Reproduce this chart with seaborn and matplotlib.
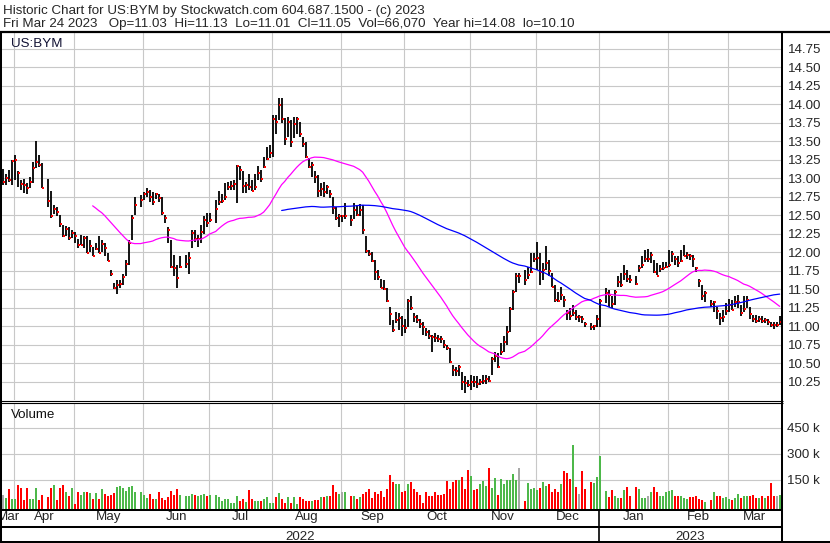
import numpy as np
import pandas as pd
import matplotlib
matplotlib.use("Agg")
import matplotlib.pyplot as plt
import seaborn as sns

# ---------------- data ----------------
start_date, end_date = "2022-03-28", "2023-03-24"
holidays = ["2022-04-15", "2022-05-30", "2022-06-20", "2022-07-04", "2022-09-05",
            "2022-11-24", "2022-12-26", "2023-01-02", "2023-01-16", "2023-02-20"]

close = [
    12.94, 13.00, 12.97, 13.23,
    13.24, 13.07, 12.92, 12.91, 12.86, 12.94, 13.13, 13.21, 13.17, 12.86, 12.69, 12.48, 12.58, 12.54, 12.38, 12.22, 12.31, 12.19, 12.26, 12.22,
    12.09, 12.10, 12.19, 11.99, 12.08, 11.95, 12.04, 11.99, 12.11, 12.05, 11.88, 11.70, 11.52, 11.56, 11.57, 11.66, 11.84, 12.12, 12.46, 12.63, 12.70,
    12.78, 12.81, 12.75, 12.68, 12.79, 12.73, 12.53, 12.46, 12.30, 11.80, 11.79, 11.65, 11.80, 11.84, 11.92, 12.26, 12.17, 12.18, 12.27, 12.43, 12.39,
    12.43, 12.58, 12.68, 12.69, 12.75, 12.88, 12.89, 12.92, 13.16, 13.11, 12.89, 12.90, 12.88, 12.83, 12.88, 13.07, 12.98, 13.15, 13.26, 13.34,
    13.80, 13.76, 13.99, 13.80, 13.53, 13.76, 13.49, 13.73, 13.80, 13.59, 13.46, 13.28, 13.15, 13.17, 13.02, 12.83, 12.85, 12.81, 12.88, 12.79, 12.59, 12.46, 12.48,
    12.48, 12.49, 12.43, 12.57, 12.50, 12.57, 12.30, 12.02, 11.97, 11.88, 11.73, 11.66, 11.52, 11.50, 11.34, 11.16, 10.95, 11.08, 11.11, 11.00, 10.97,
    11.34, 11.25, 11.12, 11.08, 11.03, 10.98, 10.92, 10.86, 10.85, 10.84, 10.83, 10.82, 10.74, 10.70, 10.52, 10.41, 10.39, 10.45, 10.25, 10.23, 10.20,
    10.25, 10.24, 10.22, 10.24, 10.26, 10.29, 10.26, 10.56, 10.60, 10.44, 10.65, 10.79, 10.92, 11.23, 11.46, 11.67, 11.67, 11.62, 11.69, 11.73, 11.91,
    11.92, 11.73, 11.76, 11.85, 11.75, 11.53, 11.35, 11.34, 11.42, 11.35, 11.18, 11.14, 11.18, 11.12, 11.12, 11.10, 11.03, 10.99, 11.00, 11.10, 11.34,
    11.44, 11.42, 11.30, 11.46, 11.59, 11.55, 11.70, 11.64, 11.62, 11.57, 11.78, 11.82, 11.90, 11.90, 11.96, 11.73, 11.68, 11.77, 11.78, 11.80,
    11.82, 11.97, 11.90, 11.85, 11.88, 11.95, 11.96, 11.94, 11.91, 11.78, 11.61, 11.40, 11.45, 11.30, 11.32, 11.20, 11.11, 11.12, 11.20,
    11.28, 11.22, 11.32, 11.33, 11.18, 11.23, 11.35, 11.16, 11.09, 11.07, 11.10, 11.07, 11.08, 11.05, 11.02, 11.01, 11.01, 11.05,
]

high = [
    13.12, 13.05, 13.11, 13.25,
    13.31, 13.09, 12.97, 12.99, 12.93, 13.02, 13.22, 13.50, 13.31, 13.20, 12.99, 12.82, 12.64, 12.61, 12.50, 12.36, 12.35, 12.34, 12.30, 12.27,
    12.18, 12.23, 12.22, 12.21, 12.16, 12.07, 12.12, 12.21, 12.16, 12.12, 11.98, 11.76, 11.58, 11.62, 11.62, 11.70, 11.89, 12.16, 12.50, 12.75, 12.77,
    12.81, 12.87, 12.84, 12.81, 12.80, 12.79, 12.75, 12.50, 12.34, 12.16, 11.96, 11.82, 11.94, 11.96, 12.00, 12.30, 12.30, 12.23, 12.37, 12.49, 12.53,
    12.53, 12.70, 12.82, 12.79, 12.93, 12.95, 12.96, 12.97, 13.17, 13.16, 13.09, 12.95, 13.06, 12.97, 13.06, 13.16, 13.11, 13.29, 13.42, 13.45,
    13.85, 13.85, 14.08, 14.08, 13.81, 13.83, 13.78, 13.82, 13.83, 13.76, 13.56, 13.49, 13.27, 13.22, 13.09, 13.04, 12.93, 12.95, 12.90, 12.84, 12.75, 12.61, 12.52,
    12.50, 12.66, 12.50, 12.66, 12.63, 12.65, 12.63, 12.21, 12.03, 12.00, 11.89, 11.76, 11.64, 11.62, 11.51, 11.26, 11.08, 11.19, 11.17, 11.13, 11.10,
    11.37, 11.40, 11.17, 11.15, 11.10, 11.06, 10.97, 10.95, 10.88, 10.90, 10.88, 10.86, 10.81, 10.74, 10.70, 10.47, 10.45, 10.47, 10.38, 10.32, 10.27,
    10.34, 10.32, 10.32, 10.29, 10.34, 10.34, 10.32, 10.58, 10.65, 10.63, 10.77, 10.86, 11.00, 11.26, 11.49, 11.71, 11.71, 11.76, 11.80, 11.98, 11.98,
    12.14, 11.98, 11.85, 12.08, 11.89, 11.71, 11.55, 11.46, 11.53, 11.40, 11.22, 11.24, 11.28, 11.22, 11.15, 11.13, 11.06, 11.04, 11.01, 11.15, 11.37,
    11.51, 11.49, 11.40, 11.49, 11.67, 11.71, 11.82, 11.76, 11.69, 11.67, 11.82, 11.94, 12.03, 12.04, 12.00, 11.89, 11.85, 11.83, 11.87, 11.86,
    12.03, 12.01, 11.95, 11.94, 12.03, 12.09, 12.00, 11.97, 11.96, 11.80, 11.64, 11.55, 11.47, 11.35, 11.34, 11.26, 11.18, 11.22, 11.31,
    11.37, 11.35, 11.40, 11.42, 11.28, 11.40, 11.40, 11.26, 11.15, 11.15, 11.14, 11.13, 11.11, 11.10, 11.06, 11.05, 11.06, 11.13,
]

low = [
    12.90, 12.91, 12.95, 12.90,
    12.97, 12.88, 12.84, 12.80, 12.79, 12.86, 12.93, 13.13, 13.15, 12.86, 12.61, 12.46, 12.52, 12.48, 12.34, 12.20, 12.21, 12.16, 12.19, 12.12,
    12.05, 12.09, 12.05, 11.98, 12.00, 11.95, 12.03, 11.98, 12.00, 11.95, 11.88, 11.67, 11.50, 11.43, 11.51, 11.55, 11.67, 11.82, 12.16, 12.50, 12.61,
    12.70, 12.75, 12.68, 12.64, 12.72, 12.68, 12.50, 12.39, 12.12, 11.78, 11.67, 11.52, 11.78, 11.78, 11.70, 12.05, 12.14, 12.07, 12.12, 12.25, 12.34,
    12.41, 12.39, 12.63, 12.66, 12.70, 12.84, 12.84, 12.84, 12.66, 12.97, 12.80, 12.80, 12.84, 12.82, 12.84, 12.97, 12.95, 13.13, 13.24, 13.27,
    13.29, 13.60, 13.78, 13.74, 13.45, 13.56, 13.42, 13.54, 13.60, 13.56, 13.42, 13.27, 13.13, 13.02, 12.93, 12.75, 12.76, 12.75, 12.79, 12.73, 12.52, 12.43, 12.34,
    12.41, 12.45, 12.35, 12.45, 12.48, 12.48, 12.25, 11.98, 11.94, 11.87, 11.62, 11.62, 11.51, 11.49, 11.33, 11.01, 10.92, 11.04, 10.95, 10.86, 10.90,
    10.99, 11.22, 11.06, 11.04, 10.97, 10.88, 10.86, 10.83, 10.65, 10.79, 10.79, 10.77, 10.70, 10.68, 10.50, 10.32, 10.32, 10.32, 10.13, 10.10, 10.18,
    10.13, 10.18, 10.16, 10.20, 10.22, 10.22, 10.25, 10.34, 10.52, 10.43, 10.61, 10.65, 10.74, 10.92, 11.22, 11.46, 11.58, 11.55, 11.64, 11.71, 11.87,
    11.76, 11.55, 11.62, 11.76, 11.67, 11.53, 11.33, 11.33, 11.35, 11.26, 11.08, 11.08, 11.13, 11.08, 11.06, 11.04, 10.99, 10.95, 10.95, 10.99, 10.99,
    11.31, 11.26, 11.24, 11.28, 11.53, 11.53, 11.62, 11.60, 11.58, 11.55, 11.73, 11.78, 11.87, 11.87, 11.85, 11.71, 11.69, 11.73, 11.76, 11.78,
    11.80, 11.87, 11.82, 11.80, 11.87, 11.94, 11.91, 11.89, 11.80, 11.73, 11.53, 11.35, 11.33, 11.26, 11.19, 11.10, 11.01, 11.06, 11.15,
    11.19, 11.22, 11.26, 11.24, 11.13, 11.19, 11.24, 11.10, 11.06, 11.04, 11.06, 11.04, 11.04, 11.01, 10.99, 10.96, 10.99, 11.01,
]

volume_k = [
    63, 47, 100, 42,
    42, 121, 103, 36, 103, 42, 42, 105, 36, 63, 53, 103, 121, 36, 103, 121, 80, 57, 103, 10,
    80, 63, 80, 80, 74, 42, 74, 42, 98, 69, 59, 63, 74, 109, 115, 103, 88, 111, 115, 80, 80,
    63, 47, 69, 42, 42, 80, 47, 36, 53, 88, 63, 98, 63, 57, 57, 69, 63, 57, 63, 69, 57,
    63, 63, 50, 30, 40, 40, 20, 20, 55, 30, 42, 25, 90, 40, 30, 30, 30, 40, 50, 20,
    15, 50, 75, 40, 20, 50, 15, 50, 10, 52, 40, 30, 30, 30, 35, 35, 50, 50, 55, 55, 120, 80, 70,
    80, 80, 60, 60, 40, 50, 70, 80, 100, 45, 80, 70, 85, 50, 100, 180, 140, 125, 125, 80, 85,
    125, 140, 96, 80, 61, 15, 80, 57, 57, 80, 63, 63, 69, 144, 98, 138, 150, 150, 167, 98, 208,
    173, 92, 98, 127, 144, 115, 218, 103, 161, 63, 155, 127, 150, 150, 185, 150, 219, 30, 130, 100, 105,
    95, 105, 140, 115, 125, 80, 100, 80, 125, 200, 190, 155, 353, 110, 67, 200, 100, 140, 130, 170, 290,
    85, 50, 95, 55, 45, 45, 90, 110, 60, 110, 100, 45, 45, 55, 80, 110, 80, 55, 60, 80,
    85, 90, 55, 60, 55, 45, 40, 50, 50, 60, 40, 35, 25, 35, 80, 60, 55, 45, 50,
    40, 35, 45, 70, 45, 55, 60, 60, 65, 45, 45, 60, 45, 55, 130, 55, 60, 66,
]

ma_short, ma_long = 30, 90
price_ticks = [10.25, 10.50, 10.75, 11.00, 11.25, 11.50, 11.75, 12.00, 12.25, 12.50,
               12.75, 13.00, 13.25, 13.50, 13.75, 14.00, 14.25, 14.50, 14.75]
volume_ticks = [150, 300, 450]
month_names = ["Mar", "Apr", "May", "Jun", "Jul", "Aug", "Sep", "Oct", "Nov", "Dec", "Jan", "Feb", "Mar"]
year_names = ["2022", "2023"]
header1 = "Historic Chart for US:BYM by Stockwatch.com 604.687.1500 - (c) 2023"
header2 = "Fri Mar 24 2023   Op=11.03  Hi=11.13  Lo=11.01  Cl=11.05  Vol=66,070  Year hi=14.08  lo=10.10"

# ---------------- frame ----------------
weekdays = pd.bdate_range(start_date, end_date)
trade_days = weekdays[~weekdays.isin(pd.to_datetime(holidays))]
df = pd.DataFrame({"x": weekdays.get_indexer(trade_days), "close": close, "high": high,
                   "low": low, "vol": volume_k})
df["ma_s"] = df["close"].rolling(ma_short).mean()
df["ma_l"] = df["close"].rolling(ma_long).mean()
chg = np.round(df["close"].diff().fillna(0).values, 4)
vol_colors = np.where(chg > 0, "#4db84a", np.where(chg < 0, "#ff0000", "#a8a8a8"))

# month boundaries (weekday index space)
month_starts = pd.date_range("2022-04-01", "2023-03-01", freq="MS")
bounds = []
for m in month_starts:
    f = weekdays.searchsorted(m)
    bounds.append(f - 0.22 - (1.0 if m.weekday() >= 5 else 0.0))
XL, XR = -0.22, 259.44
edges = [XL] + bounds + [XR]
mids = [(edges[i] + edges[i + 1]) / 2 for i in range(len(edges) - 1)]
jan_b = bounds[9]

# ---------------- figure ----------------
sns.set_style("white")
plt.rcParams["font.family"] = ["Liberation Sans", "DejaVu Sans"]
FS = 9.6
GRID = "#c8c8c8"
W, H = 830, 543


def rect(x0, y0, x1, y1):
    return [x0 / W, 1 - y1 / H, (x1 - x0) / W, (y1 - y0) / H]


fig = plt.figure(figsize=(W / 100, H / 100), dpi=100)
ax1 = fig.add_axes(rect(2, 33, 781, 400))
ax2 = fig.add_axes(rect(2, 403, 781, 509.5))

# price pane
ax1.set_xlim(XL, XR)
ax1.set_ylim(10.0, 14.9595)
ax1.set_xticks(bounds)
ax1.set_yticks(price_ticks)
ax1.grid(True, color=GRID, lw=0.8)
ax1.set_axisbelow(True)
ax1.yaxis.tick_right()
ax1.set_yticklabels([f"{t:.2f}" for t in price_ticks], fontsize=FS)
ax1.tick_params(axis="both", length=0, labelbottom=False, labelleft=False, labelright=True, pad=5)
ax1.vlines(df["x"], df["low"], df["high"], color="black", lw=1.3, zorder=2)
sns.scatterplot(x=df["x"] + 0.4, y=df["close"], marker="s", s=4.0, color="#ff0000",
                linewidth=0, ax=ax1, zorder=3)
ds = df.dropna(subset=["ma_s"])
dl = df.dropna(subset=["ma_l"])
sns.lineplot(x=ds["x"], y=ds["ma_s"], color="#ff00ff", lw=0.9, ax=ax1, zorder=4,
             estimator=None, sort=False)
sns.lineplot(x=dl["x"], y=dl["ma_l"], color="#0000ff", lw=0.9, ax=ax1, zorder=4,
             estimator=None, sort=False)
ax1.set_xlabel("")
ax1.set_ylabel("")
for s in ax1.spines.values():
    s.set_visible(False)
ax1.text(9 / 779, 1 - (46.7 - 33) / 367, "US:BYM", transform=ax1.transAxes, fontsize=FS,
         va="baseline", ha="left", color="#111133")

# volume pane
VMIN, VMAX = -20.2, 594.2
ax2.set_xlim(XL, XR)
ax2.set_ylim(VMIN, VMAX)
ax2.bar(df["x"], df["vol"] - VMIN, bottom=VMIN, width=0.68, color=vol_colors, linewidth=0, zorder=2)
ax2.set_xticks(bounds)
ax2.set_xticklabels([""] * len(bounds))
ax2.set_xticks(mids, minor=True)
ax2.set_xticklabels(month_names, minor=True, fontsize=FS)
ax2.set_yticks(volume_ticks)
ax2.yaxis.tick_right()
ax2.set_yticklabels([f"{v} k" for v in volume_ticks], fontsize=FS)
ax2.grid(True, which="major", color=GRID, lw=0.8)
ax2.set_axisbelow(True)
ax2.tick_params(axis="both", which="both", length=0, labelleft=False, labelright=True)
ax2.tick_params(axis="y", pad=4)
ax2.tick_params(axis="x", which="minor", pad=1.2)
for s in ax2.spines.values():
    s.set_visible(False)
ax2.text(9 / 779, 1 - (418 - 403) / 106.5, "Volume", transform=ax2.transAxes, fontsize=FS,
         va="baseline", ha="left", color="#111111")

# overlay frame in pixel coordinates
axf = fig.add_axes([0, 0, 1, 1], zorder=10)
axf.set_xlim(0, W)
axf.set_ylim(H, 0)
axf.axis("off")
axf.patch.set_alpha(0)


def px(xd):
    return 2 + (xd - XL) / (XR - XL) * 779


K = dict(color="black", solid_capstyle="butt")
axf.plot([0, W], [31.5, 31.5], lw=1.6, **K)
axf.plot([0, 782.5], [400.5, 400.5], lw=0.8, **K)
axf.plot([0, 782.5], [402.5, 402.5], lw=0.8, **K)
axf.plot([0, 782.5], [510, 510], lw=1.45, **K)
axf.plot([0, 782.5], [527, 527], lw=1.45, **K)
axf.plot([0, W], [542, 542], lw=1.45, **K)
axf.plot([1, 1], [31, 543], lw=1.45, **K)
axf.plot([782, 782], [31, 543], lw=1.45, **K)
axf.plot([px(jan_b), px(jan_b)], [510, 542], lw=1.2, **K)
axf.text(3.3, 13.6, header1, fontsize=FS, va="baseline", ha="left")
axf.text(2.7, 27.2, header2, fontsize=FS, va="baseline", ha="left")
axf.text((px(XL) + px(jan_b)) / 2, 540, year_names[0], fontsize=FS, va="baseline", ha="center")
axf.text((px(jan_b) + px(XR)) / 2, 540, year_names[1], fontsize=FS, va="baseline", ha="center")

fig.savefig("out.png", dpi=100)
